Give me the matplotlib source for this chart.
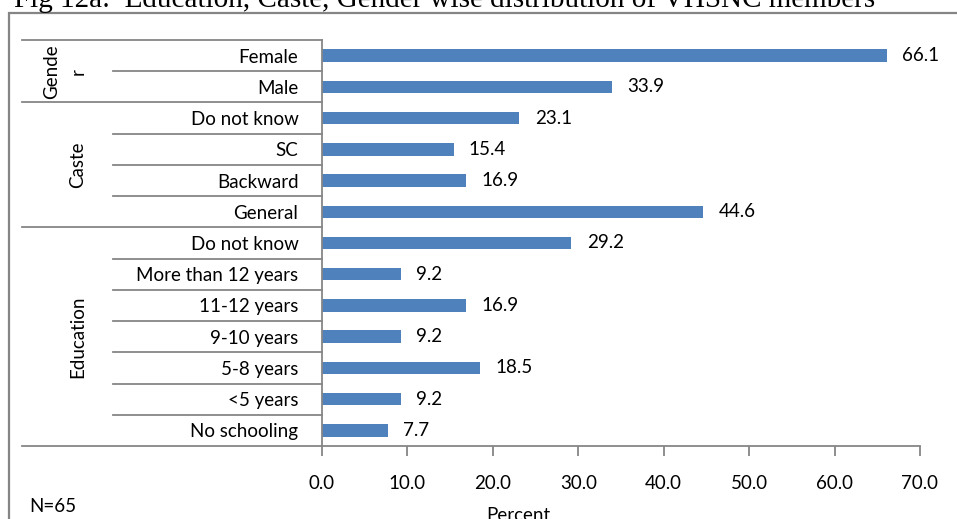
import matplotlib
matplotlib.use("Agg")
import matplotlib.pyplot as plt
from matplotlib.patches import Rectangle

# categories from bottom to top
labels = ["No schooling", "<5 years", "5-8 years", "9-10 years", "11-12 years",
          "More than 12 years", "Do not know",
          "General", "Backward", "SC", "Do not know",
          "Male", "Female"]
values = [7.7, 9.2, 18.5, 9.2, 16.9, 9.2, 29.2,
          44.6, 16.9, 15.4, 23.1,
          33.9, 66.1]
groups = ["Education", "Caste", "Gende\nr"]
group_sizes = [7, 4, 2]
xticks = [0, 10, 20, 30, 40, 50, 60, 70]

W, H = 957, 519
fig = plt.figure(figsize=(W / 100, H / 100), dpi=100)
plt.rcParams['font.family'] = ['Lato', 'DejaVu Sans']
fs = 13.5

def px(x, y):
    return x / W, 1 - y / H

# axes placement in pixels
L, R, T, B = 322, 920, 40, 446
ax = fig.add_axes([L / W, 1 - B / H, (R - L) / W, (B - T) / H])

grey = "#868686"
ax.barh(range(len(values)), values, height=0.4, color="#4F81BD")
for i, v in enumerate(values):
    ax.text(v + 1.8, i, "%.1f" % v, va="center", ha="left", fontsize=fs)

ax.set_xlim(0, 70)
ax.set_ylim(-0.5, len(values) - 0.5)
ax.set_xticks(xticks)
ax.set_xticklabels(["%.1f" % t for t in xticks], fontsize=fs)
ax.set_yticks(range(len(values)))
ax.set_yticklabels(labels, fontsize=fs)
ax.tick_params(axis="y", length=0, pad=17)
ax.tick_params(axis="x", length=7, width=1.3, color=grey, direction="out", pad=14)
for s in ["top", "right"]:
    ax.spines[s].set_visible(False)
for s in ["left", "bottom"]:
    ax.spines[s].set_color(grey)
    ax.spines[s].set_linewidth(1.3)

# separator lines on the category side
tr = ax.get_yaxis_transform()
x_cat = (113 - L) / (R - L)
x_grp = (22 - L) / (R - L)
bounds = [-0.5]
for n in group_sizes:
    bounds.append(bounds[-1] + n)
for k in range(len(values) + 1):
    y = k - 0.5
    x0 = x_grp if y in bounds else x_cat
    ax.plot([x0, 0], [y, y], color=grey, lw=1.3, transform=tr, clip_on=False)

# group names
for g, lo, hi in zip(groups, bounds[:-1], bounds[1:]):
    xc = (78 - L) / (R - L) if "\n" not in g else (65 - L) / (R - L)
    ax.text(xc, (lo + hi) / 2, g, rotation=90, ha="center", va="center",
            fontsize=fs, transform=tr, linespacing=1.7)

# outer frame
fig.add_artist(Rectangle(px(9, 530), (965 - 9) / W, (530 - 13) / H,
                         transform=fig.transFigure, fill=False,
                         edgecolor="#858585", lw=1.6))

fig.text(*px(518, 521), "Percent", ha="center", va="baseline", fontsize=fs)
fig.text(*px(29, 506), "N=65", ha="left", va="center", fontsize=fs)
fig.text(*px(14, 7), "Fig 12a:  Education, Caste, Gender wise distribution of VHSNC members",
         ha="left", va="baseline", fontsize=21, family="Liberation Serif")

fig.savefig("out.png", dpi=100)
